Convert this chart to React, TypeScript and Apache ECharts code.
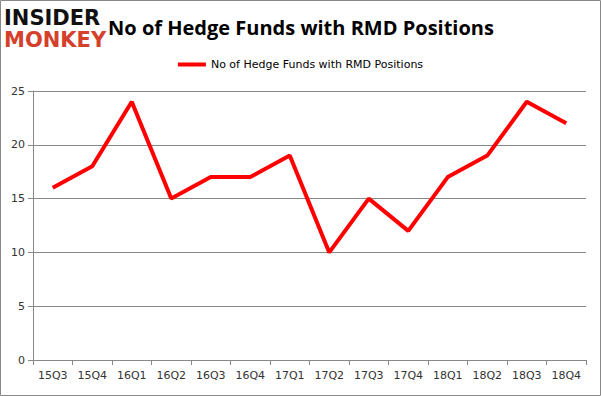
import React, { useEffect, useRef } from "react";
import * as echarts from "echarts";

const categories = ["15Q3","15Q4","16Q1","16Q2","16Q3","16Q4","17Q1","17Q2","17Q3","17Q4","18Q1","18Q2","18Q3","18Q4"];
const hedgeFunds = [16,18,24,15,17,17,19,10,15,12,17,19,24,22];
const seriesName = "No of Hedge Funds with RMD Positions";
const titleText = "No of Hedge Funds with RMD Positions";

export default function App() {
  const ref = useRef<HTMLDivElement>(null);
  useEffect(() => {
    document.body.style.margin = "0";
    const chart = echarts.init(ref.current!, null, { renderer: "svg" });
    chart.setOption({
      animation: false,
      backgroundColor: "#ffffff",
      title: {
        text: titleText,
        left: 296,
        top: 12,
        textAlign: "center",
        textStyle: { fontFamily: "Open Sans", fontWeight: "bold", fontSize: 20, color: "#000" },
      },
      legend: {
        top: 54,
        left: "center",
        itemWidth: 28,
        itemHeight: 4,
        icon: "rect",
        textStyle: { fontFamily: "DejaVu Sans", fontSize: 11, color: "#000" },
        data: [seriesName],
      },
      graphic: [
        { type: "rect", shape: { x: 0.5, y: 0.5, width: 600, height: 395 }, style: { fill: "none", stroke: "#888", lineWidth: 1 } },
        { type: "text", x: 4, y: 7, style: { text: "INSIDER", fontFamily: "DejaVu Sans", fontWeight: "bold", fontSize: 21, fill: "#111" } },
        { type: "text", x: 4, y: 29, style: { text: "MONKEY", fontFamily: "DejaVu Sans", fontWeight: "bold", fontSize: 21, fill: "#d4402c" } },
      ],
      grid: { left: 33, right: 15, top: 91, bottom: 36 },
      xAxis: {
        type: "category",
        data: categories,
        boundaryGap: true,
        axisLine: { lineStyle: { color: "#888" } },
        axisTick: { show: true, length: 5, lineStyle: { color: "#888" } },
        axisLabel: { fontFamily: "DejaVu Sans", fontSize: 11, color: "#333", margin: 10 },
      },
      yAxis: {
        type: "value",
        min: 0,
        max: 25,
        interval: 5,
        axisLine: { show: true, lineStyle: { color: "#888" } },
        axisTick: { show: true, length: 5, lineStyle: { color: "#888" } },
        splitLine: { lineStyle: { color: "#888" } },
        axisLabel: { fontFamily: "DejaVu Sans", fontSize: 11, color: "#333", margin: 8 },
      },
      series: [
        {
          name: seriesName,
          type: "line",
          data: hedgeFunds,
          symbol: "none",
          lineStyle: { color: "#ff0000", width: 4 },
          itemStyle: { color: "#ff0000" },
        },
      ],
    });
    return () => chart.dispose();
  }, []);
  return <div ref={ref} style={{ width: 601, height: 396 }} />;
}
